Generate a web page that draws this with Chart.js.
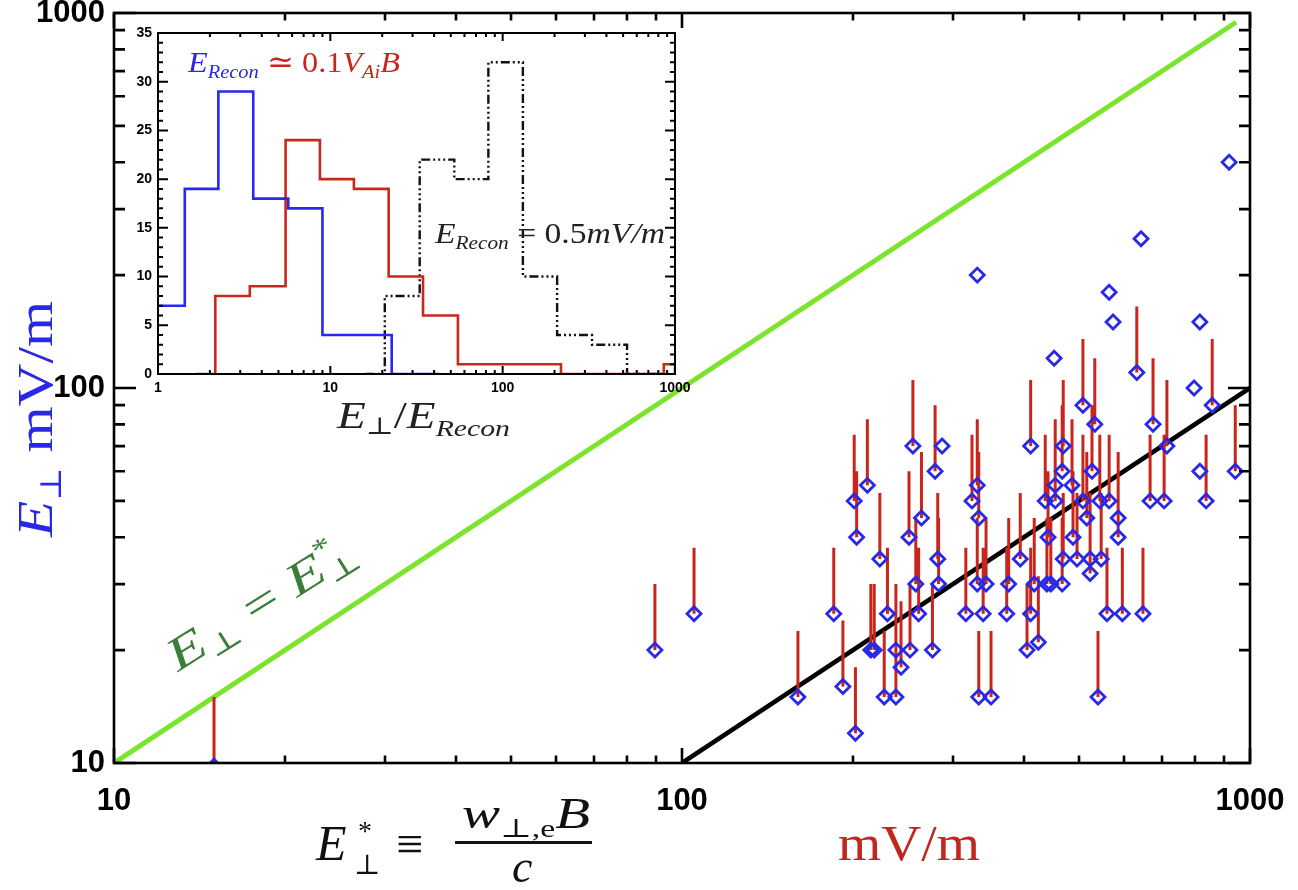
<!DOCTYPE html>
<html>
<head>
<meta charset="utf-8">
<script src="https://cdn.jsdelivr.net/npm/chart.js@4.4.0/dist/chart.umd.min.js"></script>
<style>
  html, body { margin: 0; padding: 0; background: #fff; }
  #wrap { position: relative; width: 1298px; height: 890px; }
  #mainChart { position: absolute; left: 0; top: 0; }
  #insetChart { position: absolute; left: 100px; top: 20px; }
</style>
</head>
<body>
<div id="wrap">
  <canvas id="mainChart" width="1298" height="890"></canvas>
  <canvas id="insetChart" width="600" height="420"></canvas>
</div>
<script>
// Main panel: E_perp (blue diamonds) vs E*_perp, red bars reach up to the upper estimate
const estarX = [
  15, 89.6, 105, 160, 185, 192, 202, 201, 203, 212,
  215, 218, 223, 227, 230, 238, 238, 243, 251, 252,
  255, 258, 261, 264, 276, 279, 282, 283, 287, 316,
  324, 331, 331, 333, 333, 339, 343, 350, 373, 376,
  394, 405, 411, 411, 417, 424, 436, 441, 439, 446,
  454, 454, 467, 467, 469, 469, 486, 488, 496, 508,
  508, 516, 523, 523, 527, 533, 544, 547, 540, 560,
  565, 586, 586, 596, 648, 632, 675, 714, 667, 706,
  837, 858, 942, 331, 452, 565, 574, 643, 816, 919,
  797, 816
]
const eperpY = [
  9.8, 20, 25, 15, 25, 16, 12, 50, 40, 55,
  20, 20, 35, 15, 25, 15, 20, 18, 40, 20,
  70, 30, 25, 45, 20, 60, 35, 30, 70, 25,
  50, 55, 30, 15, 45, 25, 30, 15, 25, 30,
  35, 20, 70, 25, 30, 21, 50, 40, 30, 30,
  55, 50, 30, 60, 70, 35, 55, 40, 35, 90,
  50, 45, 35, 32, 60, 80, 50, 35, 15, 25,
  50, 45, 40, 25, 25, 110, 80, 70, 50, 50,
  50, 90, 60, 200, 120, 180, 150, 250, 150, 400,
  100, 60
]
const eperpTop = [
  15, 30, 37.5, 22.5, 37.5, 24, 18, 75, 60, 82.5,
  30, 30, 52.5, 22.5, 37.5, 22.5, 30, 27, 60, 30,
  105, 45, 37.5, 67.5, 30, 90, 52.5, 45, null, 37.5,
  75, 82.5, 45, 22.5, 67.5, 37.5, 45, 22.5, 37.5, 45,
  52.5, 30, 105, 37.5, 45, 31.5, 75, 60, 45, 45,
  82.5, 75, 45, 90, 105, 52.5, 82.5, 60, 52.5, 135,
  75, 67.5, 52.5, 48, 90, 120, 75, 52.5, 22.5, 37.5,
  75, 67.5, 60, 37.5, 37.5, 165, 120, 105, 75, 75,
  75, 135, 90, null, null, null, null, null, null, null,
  null, null
]
const equalX = [10, 945]
const equalY = [10, 945]
const fitX = [100, 1000]
const fitY = [10, 100]
const mainTicks = [10, 100, 1000]

// Inset: histograms of E_perp / E_Recon (bin edges + counts)
const blueEdges = [1, 1.43, 2.24, 3.57, 5.7, 9.0, 22.7, 43]
const blueCounts = [7, 19, 29, 18, 17, 4, 0]
const redEdges = [1.66, 2.15, 3.41, 5.5, 8.7, 13.7, 21.8, 34.5, 55, 218, 861, 1000]
const redCounts = [0, 8, 9, 24, 20, 19, 10, 6, 1, 0, 1]
const blackEdges = [16, 20.7, 33, 52.4, 82.6, 131, 207, 330, 527, 870]
const blackCounts = [0, 8, 22, 20, 32, 10, 4, 3, 0]
const insetXTicks = [1, 10, 100, 1000]
const insetYTicks = [0, 5, 10, 15, 20, 25, 30, 35]

const AXIS_FONT = '"Liberation Sans Narrow", "Liberation Sans", Arial, sans-serif'
const SERIF = '"Liberation Serif", "DejaVu Serif", serif'
const BLUE = 'rgb(40, 40, 230)'
const RED = 'rgb(200, 38, 28)'
const GREEN = 'rgb(125, 228, 45)'

// Draw a row of text runs, squeezed/stretched to a target width
function fitRuns(ctx, x, y, width, runs) {
  let total = 0
  runs.forEach((r) => {
    ctx.font = r.font
    if (r.adv !== false) total += ctx.measureText(r.t).width
  })
  ctx.save()
  ctx.translate(x, y)
  ctx.scale(width / total, 1)
  let cx = 0
  runs.forEach((r) => {
    ctx.font = r.font
    ctx.fillStyle = r.color
    ctx.fillText(r.t, cx, r.dy || 0)
    if (r.adv !== false) cx += ctx.measureText(r.t).width
  })
  ctx.restore()
}

// Log axis tick positions: decades long, 2..9 short
function logTickList(lo, hi, majorLen, minorLen) {
  const out = []
  for (let d = lo; d < hi; d *= 10) {
    for (let k = 1; k < 10; k++) out.push({ v: d * k, len: k === 1 ? majorLen : minorLen })
  }
  out.push({ v: hi, len: majorLen })
  return out
}

// Frame with inward ticks on all four sides
function makeBoxTicks(xTicks, yTicks, lineWidth) {
  return {
    id: "boxTicks",
    afterDatasetsDraw(chart) {
      const { ctx, chartArea: a, scales } = chart
      ctx.save()
      ctx.strokeStyle = "#000"
      ctx.lineWidth = lineWidth
      ctx.beginPath()
      xTicks.forEach((t) => {
        const px = scales.x.getPixelForValue(t.v)
        ctx.moveTo(px, a.bottom)
        ctx.lineTo(px, a.bottom - t.len)
        ctx.moveTo(px, a.top)
        ctx.lineTo(px, a.top + t.len)
      })
      yTicks.forEach((t) => {
        const py = scales.y.getPixelForValue(t.v)
        ctx.moveTo(a.left, py)
        ctx.lineTo(a.left + t.len, py)
        ctx.moveTo(a.right, py)
        ctx.lineTo(a.right - t.len, py)
      })
      ctx.stroke()
      ctx.strokeRect(a.left, a.top, a.right - a.left, a.bottom - a.top)
      ctx.restore()
    },
  }
}

// Red bars from each diamond up to its upper value
const upperBars = {
  id: "upperBars",
  beforeDatasetDraw(chart, args) {
    if (args.index !== 0) return
    const { ctx, chartArea: a, scales } = chart
    ctx.save()
    ctx.beginPath()
    ctx.rect(a.left, a.top, a.right - a.left, a.bottom - a.top)
    ctx.clip()
    ctx.strokeStyle = RED
    ctx.lineWidth = 3
    ctx.beginPath()
    estarX.forEach((x, i) => {
      if (eperpTop[i] == null) return
      const px = scales.x.getPixelForValue(x)
      ctx.moveTo(px, scales.y.getPixelForValue(eperpY[i]))
      ctx.lineTo(px, scales.y.getPixelForValue(eperpTop[i]))
    })
    ctx.stroke()
    ctx.restore()
  },
}

// Axis titles and the annotation on the 1:1 line
const mainLabels = {
  id: "mainLabels",
  afterDraw(chart) {
    const ctx = chart.ctx
    ctx.save()
    ctx.textBaseline = "alphabetic"

    // y title
    ctx.save()
    ctx.translate(52, 537)
    ctx.rotate(-Math.PI / 2)
    fitRuns(ctx, 0, 0, 236, [
      { t: "E", font: `italic 50px ${SERIF}`, color: BLUE },
      { t: "\u22A5", font: `30px ${SERIF}`, dy: 9, color: BLUE },
      { t: " mV/m", font: `50px ${SERIF}`, color: BLUE },
    ])
    ctx.restore()

    // x title: E*_perp = w_perp,e B / c
    ctx.fillStyle = "#111"
    ctx.font = `italic 50px ${SERIF}`
    ctx.fillText("E", 316, 860)
    ctx.font = `28px ${SERIF}`
    ctx.fillText("*", 358, 840)
    ctx.fillText("\u22A5", 354, 874)
    ctx.font = `48px ${SERIF}`
    ctx.fillText("\u2261", 396, 860)
    fitRuns(ctx, 462, 828, 128, [
      { t: "w", font: `italic 44px ${SERIF}`, color: "#111" },
      { t: "\u22A5,e", font: `26px ${SERIF}`, dy: 9, color: "#111" },
      { t: "B", font: `italic 44px ${SERIF}`, color: "#111" },
    ])
    ctx.fillRect(455, 841, 137, 3)
    ctx.font = `italic 46px ${SERIF}`
    ctx.fillText("c", 512, 882)

    fitRuns(ctx, 838, 860, 142, [{ t: "mV/m", font: `50px ${SERIF}`, color: "rgb(190, 40, 30)" }])

    // 1:1 line label
    ctx.save()
    ctx.translate(178, 672)
    ctx.rotate((-32 * Math.PI) / 180)
    const g = "rgb(60, 125, 60)"
    fitRuns(ctx, 0, 0, 214, [
      { t: "E", font: `italic 46px ${SERIF}`, color: g },
      { t: "\u22A5", font: `28px ${SERIF}`, dy: 8, color: g },
      { t: " = ", font: `46px ${SERIF}`, color: g },
      { t: "E", font: `italic 46px ${SERIF}`, color: g },
      { t: "*", font: `28px ${SERIF}`, dy: -20, color: g, adv: false },
      { t: "\u22A5", font: `28px ${SERIF}`, dy: 8, color: g },
    ])
    ctx.restore()
    ctx.restore()
  },
}

// Text inside / under the inset
const insetLabels = {
  id: "insetLabels",
  afterDraw(chart) {
    const ctx = chart.ctx
    const ink = "#222"
    fitRuns(ctx, 88, 52, 212, [
      { t: "E", font: `italic 30px ${SERIF}`, color: BLUE },
      { t: "Recon", font: `italic 19px ${SERIF}`, dy: 6, color: BLUE },
      { t: " \u2243 0.1", font: `30px ${SERIF}`, color: RED },
      { t: "V", font: `italic 30px ${SERIF}`, color: RED },
      { t: "Ai", font: `italic 19px ${SERIF}`, dy: 6, color: RED },
      { t: "B", font: `italic 30px ${SERIF}`, color: RED },
    ])
    fitRuns(ctx, 335, 223, 230, [
      { t: "E", font: `italic 30px ${SERIF}`, color: ink },
      { t: "Recon", font: `italic 19px ${SERIF}`, dy: 6, color: ink },
      { t: " = 0.5", font: `30px ${SERIF}`, color: ink },
      { t: "mV/m", font: `italic 30px ${SERIF}`, color: ink },
    ])
    fitRuns(ctx, 237, 408, 173, [
      { t: "E", font: `italic 38px ${SERIF}`, color: ink },
      { t: "\u22A5", font: `24px ${SERIF}`, dy: 6, color: ink },
      { t: "/", font: `38px ${SERIF}`, color: ink },
      { t: "E", font: `italic 38px ${SERIF}`, color: ink },
      { t: "Recon", font: `italic 24px ${SERIF}`, dy: 8, color: ink },
    ])
  },
}

function toPoints(xs, ys) {
  return xs.map((x, i) => ({ x: x, y: ys[i] }))
}

// Step outline: value of bin i runs from edge i to edge i+1
function stepPoints(edges, counts) {
  return edges.map((e, i) => ({ x: e, y: i < counts.length ? counts[i] : 0 }))
}

function fixedScale(size, key) {
  return (s) => {
    s[key] = size
    s.paddingTop = 0
    s.paddingBottom = 0
    s.paddingLeft = 0
    s.paddingRight = 0
  }
}

// Main chart
new Chart(document.getElementById("mainChart"), {
  type: "scatter",
  data: {
    datasets: [
      {
        data: toPoints(estarX, eperpY),
        pointStyle: "rectRot",
        pointRadius: 7,
        pointBorderWidth: 2.8,
        pointBorderColor: BLUE,
        pointBackgroundColor: "rgba(0,0,0,0)",
        clip: 0,
        order: 0,
      },
      {
        type: "line",
        data: toPoints(fitX, fitY),
        borderColor: "#000",
        borderWidth: 4.5,
        pointRadius: 0,
        order: 1,
      },
      {
        type: "line",
        data: toPoints(equalX, equalY),
        borderColor: GREEN,
        borderWidth: 5,
        pointRadius: 0,
        order: 2,
      },
    ],
  },
  options: {
    responsive: false,
    animation: false,
    devicePixelRatio: 1,
    layout: { padding: { left: 0, right: 48, top: 13, bottom: 0 } },
    plugins: { legend: { display: false }, tooltip: { enabled: false } },
    scales: {
      x: {
        type: "logarithmic",
        min: 10,
        max: 1000,
        afterBuildTicks: (s) => {
          s.ticks = mainTicks.map((v) => ({ value: v }))
        },
        afterFit: fixedScale(127, "height"),
        ticks: {
          callback: (v) => String(v),
          font: { family: AXIS_FONT, size: 31, weight: "bold" },
          color: "#000",
          padding: 20,
          maxRotation: 0,
          autoSkip: false,
        },
        grid: { display: false, drawTicks: false },
        border: { display: false },
      },
      y: {
        type: "logarithmic",
        min: 10,
        max: 1000,
        afterBuildTicks: (s) => {
          s.ticks = mainTicks.map((v) => ({ value: v }))
        },
        afterFit: fixedScale(114, "width"),
        ticks: {
          callback: (v) => String(v),
          font: { family: AXIS_FONT, size: 31, weight: "bold" },
          color: "#000",
          padding: 9,
          autoSkip: false,
        },
        grid: { display: false, drawTicks: false },
        border: { display: false },
      },
    },
  },
  plugins: [upperBars, makeBoxTicks(logTickList(10, 1000, 15, 7.5), logTickList(10, 1000, 22, 11), 2.6), mainLabels],
})

// Inset histogram chart
const insetYMinor = []
for (let v = 0; v <= 35; v++) insetYMinor.push({ v: v, len: v % 5 === 0 ? 10 : 5 })

new Chart(document.getElementById("insetChart"), {
  type: "line",
  data: {
    datasets: [
      {
        data: stepPoints(blueEdges, blueCounts),
        stepped: true,
        borderColor: "rgb(40, 40, 240)",
        borderWidth: 2.6,
        pointRadius: 0,
      },
      {
        data: stepPoints(redEdges, redCounts),
        stepped: true,
        borderColor: "rgb(200, 40, 30)",
        borderWidth: 2.6,
        pointRadius: 0,
      },
      {
        data: stepPoints(blackEdges, blackCounts),
        stepped: true,
        borderColor: "#111",
        borderWidth: 2.4,
        borderDash: [9, 3, 2, 3, 2, 3, 2, 3],
        pointRadius: 0,
      },
    ],
  },
  options: {
    responsive: false,
    animation: false,
    devicePixelRatio: 1,
    layout: { padding: { left: 0, right: 25, top: 13, bottom: 0 } },
    plugins: { legend: { display: false }, tooltip: { enabled: false } },
    scales: {
      x: {
        type: "logarithmic",
        min: 1,
        max: 1000,
        afterBuildTicks: (s) => {
          s.ticks = insetXTicks.map((v) => ({ value: v }))
        },
        afterFit: fixedScale(66, "height"),
        ticks: {
          callback: (v) => String(v),
          font: { family: AXIS_FONT, size: 14, weight: "bold" },
          color: "#000",
          padding: 6,
          maxRotation: 0,
          autoSkip: false,
        },
        grid: { display: false, drawTicks: false },
        border: { display: false },
      },
      y: {
        type: "linear",
        min: 0,
        max: 35,
        afterBuildTicks: (s) => {
          s.ticks = insetYTicks.map((v) => ({ value: v }))
        },
        afterFit: fixedScale(58, "width"),
        ticks: {
          font: { family: AXIS_FONT, size: 14, weight: "bold" },
          color: "#000",
          padding: 6,
          autoSkip: false,
        },
        grid: { display: false, drawTicks: false },
        border: { display: false },
      },
    },
  },
  plugins: [makeBoxTicks(logTickList(1, 1000, 8, 4), insetYMinor, 2), insetLabels],
})
</script>
</body>
</html>
